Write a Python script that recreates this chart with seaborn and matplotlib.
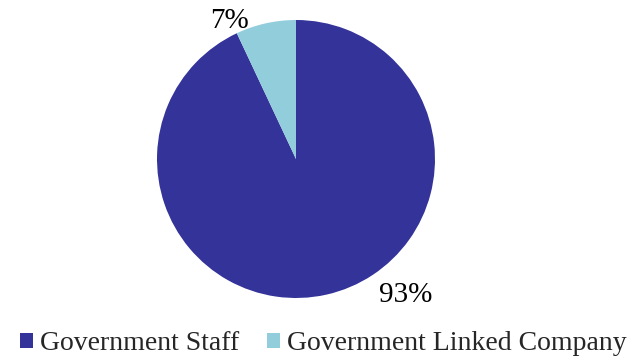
import matplotlib
matplotlib.use("Agg")
import matplotlib.pyplot as plt
import seaborn as sns
from matplotlib.patches import Patch

categories = ["Government Staff", "Government Linked Company"]
shares = [93, 7]
pct_labels = ["93%", "7%"]
colors = ["#333399", "#92CDDC"]

sns.set_theme(style="white")
plt.rcParams["font.family"] = ["Liberation Serif", "DejaVu Serif"]

fig = plt.figure(figsize=(6.41, 3.58), dpi=100)
W, H = 641, 358
cx, cy, r = 296, 159, 139
ax = fig.add_axes([(cx - r) / W, (H - cy - r) / H, 2 * r / W, 2 * r / H])

wedges, _ = ax.pie(shares, colors=colors, startangle=90, counterclock=False,
                   wedgeprops=dict(linewidth=0))
ax.set_aspect("equal")
ax.set_xlim(-1, 1)
ax.set_ylim(-1, 1)

# percentage labels outside the pie
ax.text(0.79, -0.98, pct_labels[0], ha="center", va="center", fontsize=21, color="black")
ax.text(-0.48, 0.99, pct_labels[1], ha="center", va="center", fontsize=21, color="black")

handles = [Patch(facecolor=c, edgecolor="none") for c in colors]
fig.legend(handles, categories, loc="lower center", bbox_to_anchor=(0.505, -0.065),
           ncol=2, frameon=False, fontsize=20, handlelength=0.47, handleheight=0.47,
           handletextpad=0.25, columnspacing=1.0)

fig.savefig("out.png", dpi=100)
